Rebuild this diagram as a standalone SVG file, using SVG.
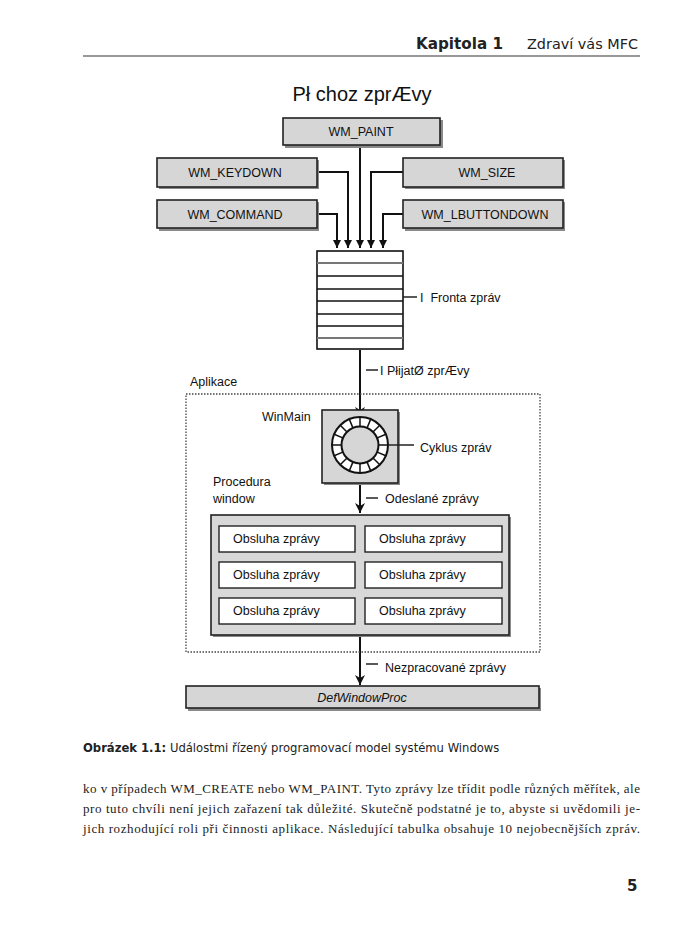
<svg xmlns="http://www.w3.org/2000/svg" width="700" height="927" viewBox="0 0 700 927">
<defs>
<marker id="ah" viewBox="0 0 10 10" refX="10" refY="5" markerWidth="8" markerHeight="8" markerUnits="userSpaceOnUse" orient="auto">
<path d="M0,0 L10,5 L0,10 z" fill="#111"/>
</marker>
<marker id="ahb" viewBox="0 0 10 10" refX="10" refY="5" markerWidth="10" markerHeight="10" markerUnits="userSpaceOnUse" orient="auto">
<path d="M0,0 L10,5 L0,10 L3,5 z" fill="#111"/>
</marker>
</defs>
<style>
.msg{fill:#d6d6d6;stroke:#222;stroke-width:1.6}
.shd{fill:#8a8a8a}
.lbl{font-family:"Liberation Sans",Arial,sans-serif;font-size:12.5px;fill:#111}
.ctr{text-anchor:middle}
.wire{fill:none;stroke:#111;stroke-width:2}
.tick{stroke:#222;stroke-width:1.5}
.inner{fill:#fff;stroke:#222;stroke-width:1.4}
.body{font-family:"Liberation Serif","Times New Roman",serif;font-size:13px;fill:#222}
.cap{font-family:"DejaVu Sans","Noto Sans",sans-serif;font-size:11.6px;fill:#222}
</style>
<rect width="700" height="927" fill="#fff"/>

<g id="header">
<text x="416" y="49" font-family="DejaVu Sans,sans-serif" font-weight="bold" font-size="15" fill="#222" textLength="87" lengthAdjust="spacingAndGlyphs">Kapitola 1</text>
<text x="527" y="49" font-family="DejaVu Sans,sans-serif" font-size="14" fill="#222" textLength="111" lengthAdjust="spacingAndGlyphs">Zdraví vás MFC</text>
<line x1="83" y1="56" x2="640" y2="56" stroke="#333" stroke-width="1.2"/>
</g>

<g id="title">
<text x="362" y="101" font-family="Liberation Sans,Arial,sans-serif" font-size="20" fill="#111" text-anchor="middle">Pł choz zprÆvy</text>
</g>

<g id="connectors">
<path class="wire" d="M360,146 V248" marker-end="url(#ah)"/>
<path class="wire" d="M317,172 H348 V248" marker-end="url(#ah)"/>
<path class="wire" d="M317,214 H337 V248" marker-end="url(#ah)"/>
<path class="wire" d="M403,172 H371 V248" marker-end="url(#ah)"/>
<path class="wire" d="M403,214 H383 V248" marker-end="url(#ah)"/>
<path class="wire" d="M360,350 V417" marker-end="url(#ahb)"/>
<path class="wire" d="M360,472 V513" marker-end="url(#ahb)"/>
<path class="wire" d="M360,635 V685" marker-end="url(#ahb)"/>
</g>

<g id="wm_paint">
<rect class="shd" x="285" y="120" width="158" height="28"/>
<rect class="msg" x="283" y="118" width="157" height="27"/>
<text class="lbl ctr" x="361" y="136">WM_PAINT</text>
</g>
<g id="wm_keydown">
<rect class="shd" x="159" y="160" width="160" height="29"/>
<rect class="msg" x="157" y="158" width="160" height="29"/>
<text class="lbl ctr" x="235" y="177">WM_KEYDOWN</text>
</g>
<g id="wm_command">
<rect class="shd" x="159" y="202" width="160" height="29"/>
<rect class="msg" x="157" y="200" width="160" height="28"/>
<text class="lbl ctr" x="235" y="219">WM_COMMAND</text>
</g>
<g id="wm_size">
<rect class="shd" x="405" y="160" width="160" height="29"/>
<rect class="msg" x="403" y="158" width="160" height="29"/>
<text class="lbl ctr" x="487" y="177">WM_SIZE</text>
</g>
<g id="wm_lbuttondown">
<rect class="shd" x="405" y="202" width="160" height="29"/>
<rect class="msg" x="403" y="200" width="160" height="28"/>
<text class="lbl ctr" x="485" y="219">WM_LBUTTONDOWN</text>
</g>

<g id="fronta">
<rect x="317" y="251" width="86" height="98" fill="#fff" stroke="#111" stroke-width="1.6"/>
<g stroke-width="1.5">
<line x1="317" y1="263" x2="403" y2="263" stroke="#777" stroke-width="2"/>
<line x1="317" y1="276" x2="403" y2="276" stroke="#111"/>
<line x1="317" y1="289" x2="403" y2="289" stroke="#111"/>
<line x1="317" y1="301" x2="403" y2="301" stroke="#111"/>
<line x1="317" y1="314" x2="403" y2="314" stroke="#111"/>
<line x1="317" y1="326" x2="403" y2="326" stroke="#111"/>
<line x1="317" y1="338" x2="403" y2="338" stroke="#777" stroke-width="2"/>
</g>
<line class="tick" x1="403" y1="297" x2="417" y2="297"/>
<text class="lbl" x="420" y="302" font-size="13" xml:space="preserve">I  Fronta zpráv</text>
</g>

<g id="prijate">
<line class="tick" x1="366" y1="370" x2="378" y2="370"/>
<text class="lbl" x="380" y="375" font-size="13">I PłijatØ zprÆvy</text>
</g>

<g id="aplikace">
<rect x="186" y="394" width="354" height="258" fill="none" stroke="#444" stroke-width="1.3" stroke-dasharray="1.5,1.5"/>
<text class="lbl" x="190" y="386">Aplikace</text>
</g>

<g id="winmain">
<rect class="shd" x="324" y="412" width="76" height="73"/>
<rect x="322" y="410" width="76" height="73" fill="#d6d6d6" stroke="#222" stroke-width="1.6"/>
<circle cx="360" cy="445" r="23" fill="none" stroke="#fff" stroke-width="9"/>
<circle cx="360" cy="445" r="28" fill="none" stroke="#111" stroke-width="2"/>
<circle cx="360" cy="445" r="18.5" fill="#d6d6d6" stroke="#111" stroke-width="2"/>
<g stroke="#111" stroke-width="1.5" transform="translate(360,445)">
<line x1="18" y1="0" x2="28" y2="0"/>
<line x1="18" y1="0" x2="28" y2="0" transform="rotate(22.5)"/>
<line x1="18" y1="0" x2="28" y2="0" transform="rotate(45)"/>
<line x1="18" y1="0" x2="28" y2="0" transform="rotate(67.5)"/>
<line x1="18" y1="0" x2="28" y2="0" transform="rotate(90)"/>
<line x1="18" y1="0" x2="28" y2="0" transform="rotate(112.5)"/>
<line x1="18" y1="0" x2="28" y2="0" transform="rotate(135)"/>
<line x1="18" y1="0" x2="28" y2="0" transform="rotate(157.5)"/>
<line x1="18" y1="0" x2="28" y2="0" transform="rotate(180)"/>
<line x1="18" y1="0" x2="28" y2="0" transform="rotate(202.5)"/>
<line x1="18" y1="0" x2="28" y2="0" transform="rotate(225)"/>
<line x1="18" y1="0" x2="28" y2="0" transform="rotate(247.5)"/>
<line x1="18" y1="0" x2="28" y2="0" transform="rotate(270)"/>
<line x1="18" y1="0" x2="28" y2="0" transform="rotate(292.5)"/>
<line x1="18" y1="0" x2="28" y2="0" transform="rotate(315)"/>
<line x1="18" y1="0" x2="28" y2="0" transform="rotate(337.5)"/>
</g>
<text class="lbl" x="262" y="421" font-size="13">WinMain</text>
<line class="tick" x1="388" y1="445" x2="414" y2="445"/>
<text class="lbl" x="420" y="452" font-size="13">Cyklus zpráv</text>
</g>

<g id="odeslane">
<line class="tick" x1="366" y1="498" x2="378" y2="498"/>
<text class="lbl" x="385" y="503" font-size="13">Odeslané zprávy</text>
</g>

<g id="procedura">
<text class="lbl" x="213" y="486" font-size="13">Procedura</text>
<text class="lbl" x="213" y="503" font-size="13">window</text>
<rect class="shd" x="213" y="517" width="298" height="120"/>
<rect x="211" y="515" width="298" height="120" fill="#d8d8d8" stroke="#222" stroke-width="1.6"/>
<rect class="inner" x="219" y="526" width="136" height="26"/>
<rect class="inner" x="365" y="526" width="137" height="26"/>
<rect class="inner" x="219" y="562" width="136" height="26"/>
<rect class="inner" x="365" y="562" width="137" height="26"/>
<rect class="inner" x="219" y="598" width="136" height="26"/>
<rect class="inner" x="365" y="598" width="137" height="26"/>
<g class="lbl" font-size="11.5">
<text x="233" y="543">Obsluha zprávy</text>
<text x="379" y="543">Obsluha zprávy</text>
<text x="233" y="579">Obsluha zprávy</text>
<text x="379" y="579">Obsluha zprávy</text>
<text x="233" y="615">Obsluha zprávy</text>
<text x="379" y="615">Obsluha zprávy</text>
</g>
</g>

<g id="nezpracovane">
<line class="tick" x1="366" y1="664" x2="378" y2="664"/>
<text class="lbl" x="385" y="672" font-size="13">Nezpracované zprávy</text>
</g>

<g id="defwindowproc">
<rect class="shd" x="188" y="688" width="353" height="23"/>
<rect class="msg" x="186" y="686" width="353" height="22"/>
<text class="lbl ctr" x="362" y="702" font-style="italic" font-size="12">DefWindowProc</text>
</g>

<g id="caption">
<text class="cap" x="83" y="752"><tspan font-weight="bold">Obrázek 1.1:</tspan> Událostmi řízený programovací model systému Windows</text>
</g>

<g id="bodytext">
<text class="body" x="83" y="793" textLength="557" lengthAdjust="spacing">ko v případech WM_CREATE nebo WM_PAINT. Tyto zprávy lze třídit podle různých měřítek, ale</text>
<text class="body" x="83" y="813" textLength="557" lengthAdjust="spacing">pro tuto chvíli není jejich zařazení tak důležité. Skutečně podstatné je to, abyste si uvědomili je-</text>
<text class="body" x="83" y="833" textLength="557" lengthAdjust="spacing">jich rozhodující roli při činnosti aplikace. Následující tabulka obsahuje 10 nejobecnějších zpráv.</text>
</g>

<g id="pagenum">
<text x="627" y="891" font-family="DejaVu Sans,sans-serif" font-weight="bold" font-size="15" fill="#222">5</text>
</g>
</svg>
